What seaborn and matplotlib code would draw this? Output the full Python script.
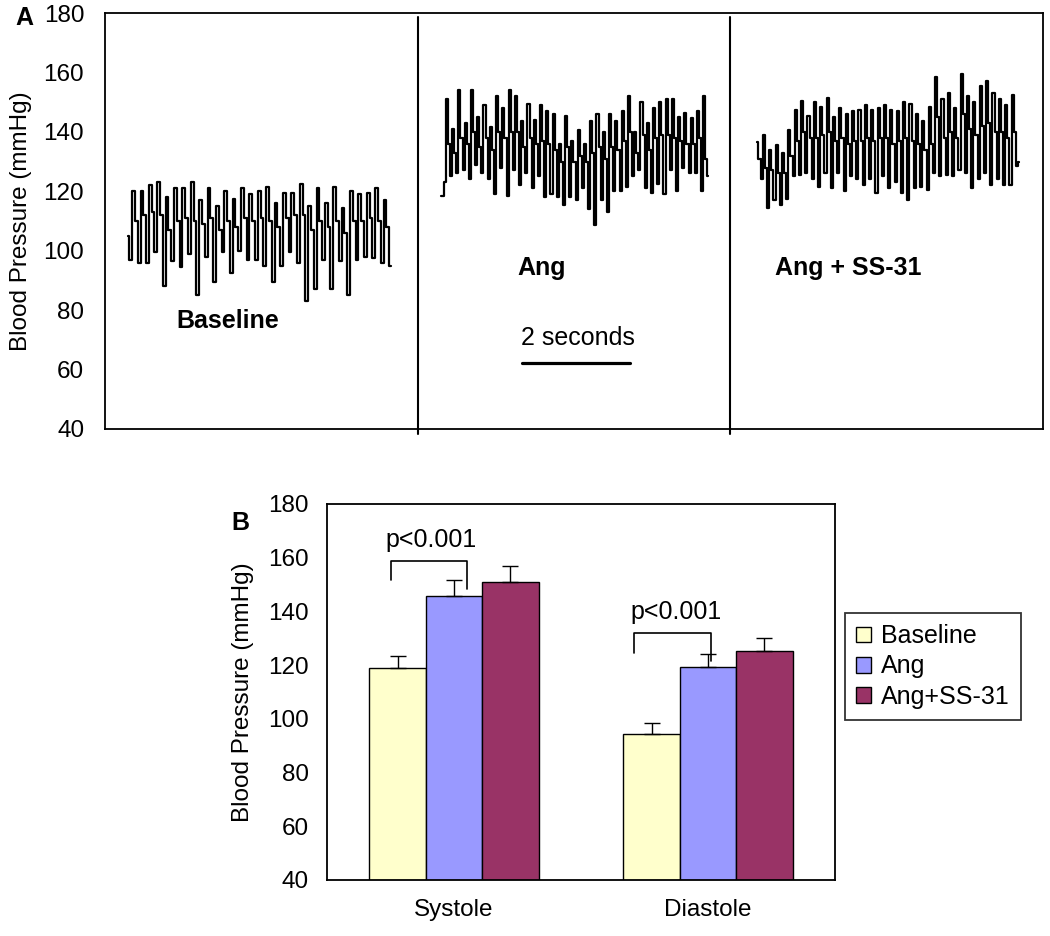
import numpy as np
import matplotlib
matplotlib.use("Agg")
import matplotlib.pyplot as plt
import matplotlib.patches as mpatches
import pandas as pd
import seaborn as sns


"Panel A: blood pressure traces (mmHg), read beat by beat off the recording"

baseline_bp = [105, 97, 120, 110,
               96, 120, 112,
               96, 122, 113,
               99.5, 123, 112,
               88, 118, 107,
               96.5, 121, 110,
               94.5, 121, 111,
               99, 123, 110,
               85, 117, 109,
               98, 121, 111,
               89.5, 115, 107,
               99.5, 120, 110,
               92.5, 117.5, 108,
               100, 121, 111,
               97, 119, 110,
               97, 120, 111,
               95, 121.5, 110,
               89.5, 116, 108,
               95, 119.5, 111,
               99.5, 119.5, 112,
               96, 122.5, 112,
               83, 115, 107,
               87, 121, 110,
               97, 116, 108,
               87, 121.5, 110,
               96.5, 114.5, 106,
               85, 120, 110,
               97, 119, 110,
               98, 119.5, 111,
               97.5, 121, 110,
               96, 117, 108,
               95]

ang_bp = [118.5, 118.5, 123,
          151, 136, 125,
          141, 133, 126,
          154, 138, 127,
          143, 136, 124,
          154, 140, 129,
          145, 135, 126,
          149, 138, 124,
          141.5, 134, 119,
          152, 140, 128,
          148, 138, 118.5,
          154, 140, 127,
          152, 140, 122,
          143.5, 135, 126,
          149.5, 138, 121,
          144, 136, 125,
          149, 137, 118,
          147, 136, 119,
          146, 134, 118,
          136, 130, 115.5,
          145.5, 135, 118,
          137, 130, 117,
          140.5, 132, 121,
          136, 130, 114,
          143.5, 133, 108.5,
          146, 135, 117,
          140, 131, 113,
          146, 135, 120,
          143.5, 134, 120,
          147, 137, 121.5,
          152, 140, 125,
          140, 133, 127,
          150, 139, 121,
          143, 134, 119.5,
          148, 138, 122.5,
          150, 139, 119,
          151, 139, 127,
          151, 138, 120,
          145, 137, 128,
          146.5, 136, 126,
          144.5, 136, 126,
          147, 138, 120,
          152, 131, 125]

angss_bp = [136.5, 131, 124,
            139, 128, 114.5,
            134, 127, 117,
            135.5, 126, 115.5,
            133, 126, 117.5,
            140.5, 132, 125,
            147.5, 137, 125.5,
            150.5, 140, 126,
            145.5, 138, 124,
            150, 138, 121.5,
            148.5, 139, 126,
            151.5, 140, 121,
            145, 137, 126,
            148, 138, 120,
            146, 136, 125,
            147, 137, 124,
            147.5, 137, 122,
            149, 138, 124,
            147.5, 137, 119.5,
            148, 138, 125,
            149, 138, 121,
            147.5, 136, 123,
            147, 137, 119.5,
            150, 138, 117,
            149.5, 137, 121,
            146, 136, 121.5,
            143.5, 134, 120.5,
            148.5, 136, 126,
            158.5, 145, 125,
            151, 138, 125.5,
            153, 140, 125,
            148, 138, 127,
            159.5, 146, 126,
            152, 141, 121,
            150, 139, 124,
            155.5, 142, 126,
            157, 143, 122,
            153, 140, 124,
            151, 140, 122,
            149, 138, 122,
            152.5, 140, 128.5,
            130]

# start / end of each recording on the time axis (1 unit = 2 s)
trace_spans = [(0.22, 2.74), (3.22, 5.79), (6.26, 8.77)]
trace_names = ["Baseline", "Ang", "Ang + SS-31"]

"Panel B: mean +/- error"
phases = ["Systole", "Diastole"]
groups = ["Baseline", "Ang", "Ang+SS-31"]
systole_mean = [118.8, 145.6, 151.0]
diastole_mean = [94.4, 119.2, 125.2]
systole_err = [4.6, 6.0, 5.8]
diastole_err = [4.1, 4.8, 4.8]
colors = ["#FFFFCC", "#9999FF", "#993366"]


sns.set_theme(style="white")
plt.rcParams["font.family"] = ["Liberation Sans", "DejaVu Sans"]
plt.rcParams["axes.edgecolor"] = "black"
plt.rcParams["text.color"] = "black"
plt.rcParams["axes.labelcolor"] = "black"
plt.rcParams["xtick.color"] = "black"
plt.rcParams["ytick.color"] = "black"

W, H = 1050, 936
fig = plt.figure(figsize=(W / 100, H / 100), dpi=100)

"Panel A"
ax1 = fig.add_axes([105 / W, 1 - 429 / H, 938 / W, 416 / H])
for vals, span in zip([baseline_bp, ang_bp, angss_bp], trace_spans):
    t = np.linspace(span[0], span[1], len(vals))
    sns.lineplot(x=t, y=vals, ax=ax1, color="black", lw=1.6,
                 drawstyle="steps-mid", estimator=None, sort=False)

ax1.set_xlim(0, 9)
ax1.set_ylim(40, 180)
ax1.set_yticks(np.arange(40, 181, 20))
ax1.set_xticks(np.arange(0, 10, 1))
ax1.set_xticklabels([])
ax1.tick_params(axis="both", direction="in", length=5, width=1, color="black")
ax1.tick_params(axis="y", labelsize=17.5, pad=15)
for s in ax1.spines.values():
    s.set_linewidth(1.3)
    s.set_color("black")
for xs in [3, 6]:
    ax1.axvline(xs, ymin=-0.012, ymax=0.99, color="black", lw=1.5, clip_on=False)
ax1.set_ylabel("Blood Pressure (mmHg)", fontsize=17.5, labelpad=8)

ax1.text(1.18, 76.3, trace_names[0], ha="center", va="center", fontsize=18, weight="bold")
ax1.text(4.19, 94.2, trace_names[1], ha="center", va="center", fontsize=18, weight="bold")
ax1.text(7.13, 94.2, trace_names[2], ha="center", va="center", fontsize=18, weight="bold")
ax1.text(4.54, 70.6, "2 seconds", ha="center", va="center", fontsize=18)
ax1.plot([4.0, 5.04], [62.2, 62.2], color="black", lw=2.3)

"Panel B"
df = pd.DataFrame({
    "phase": np.repeat(phases, len(groups)),
    "group": groups * len(phases),
    "bp": systole_mean + diastole_mean,
})
ax2 = fig.add_axes([327 / W, 1 - 880 / H, 508 / W, 376 / H])
sns.barplot(data=df, x="phase", y="bp", hue="group", hue_order=groups,
            palette=colors, width=0.667, edgecolor="black", linewidth=1,
            saturation=1, errorbar=None, legend=False, ax=ax2)

errs = [[systole_err[i], diastole_err[i]] for i in range(len(groups))]
for cont, e_list in zip(ax2.containers, errs):
    for bar, e in zip(cont, e_list):
        xc = bar.get_x() + bar.get_width() / 2
        ax2.errorbar(xc, bar.get_height(), yerr=[[0], [e]], color="black",
                     lw=1, capsize=6, capthick=1)

ax2.set_xlim(-0.5, 1.5)
ax2.set_ylim(40, 180)
ax2.set_yticks(np.arange(40, 181, 20))
ax2.set_xticks([-0.5, 0.5, 1.5])
ax2.set_xticklabels([])
ax2.set_xticks([0, 1], minor=True)
ax2.set_xticklabels(phases, minor=True)
ax2.tick_params(axis="x", which="major", direction="inout", length=12, width=1, color="black")
ax2.tick_params(axis="x", which="minor", length=0, labelsize=17.5, pad=14)
ax2.tick_params(axis="y", direction="inout", length=10, width=1, color="black",
                labelsize=17.5, pad=8)
ax2.set_xlabel("")
ax2.set_ylabel("Blood Pressure (mmHg)", fontsize=17.5, labelpad=10)
for s in ax2.spines.values():
    s.set_linewidth(1.3)
    s.set_color("black")

# significance brackets
ax2.plot([-0.247, -0.247, 0.05, 0.05], [151.8, 158.9, 158.9, 148.5], color="black", lw=1.2)
ax2.text(-0.09, 162.3, "p<0.001", ha="center", va="bottom", fontsize=18)
ax2.plot([0.71, 0.71, 1.01, 1.01], [124.7, 131.8, 131.8, 121.6], color="black", lw=1.2)
ax2.text(0.875, 135.2, "p<0.001", ha="center", va="bottom", fontsize=18)

handles = [mpatches.Patch(facecolor=c, edgecolor="black", lw=1) for c in colors]
leg = ax2.legend(handles, groups, loc="upper left",
                 bbox_to_anchor=(845 / W, 1 - 613 / H), bbox_transform=fig.transFigure,
                 frameon=True, fancybox=False, edgecolor="black", fontsize=18,
                 handlelength=0.6, handleheight=0.6, handletextpad=0.4,
                 labelspacing=0.25, borderpad=0.45, borderaxespad=0)
leg.get_frame().set_linewidth(1.3)

fig.text(15 / W, 1 - 18 / H, "A", fontsize=18, weight="bold", ha="left", va="center")
fig.text(240 / W, 1 - 523 / H, "B", fontsize=18, weight="bold", ha="center", va="center")

fig.savefig("out.png", dpi=100)
